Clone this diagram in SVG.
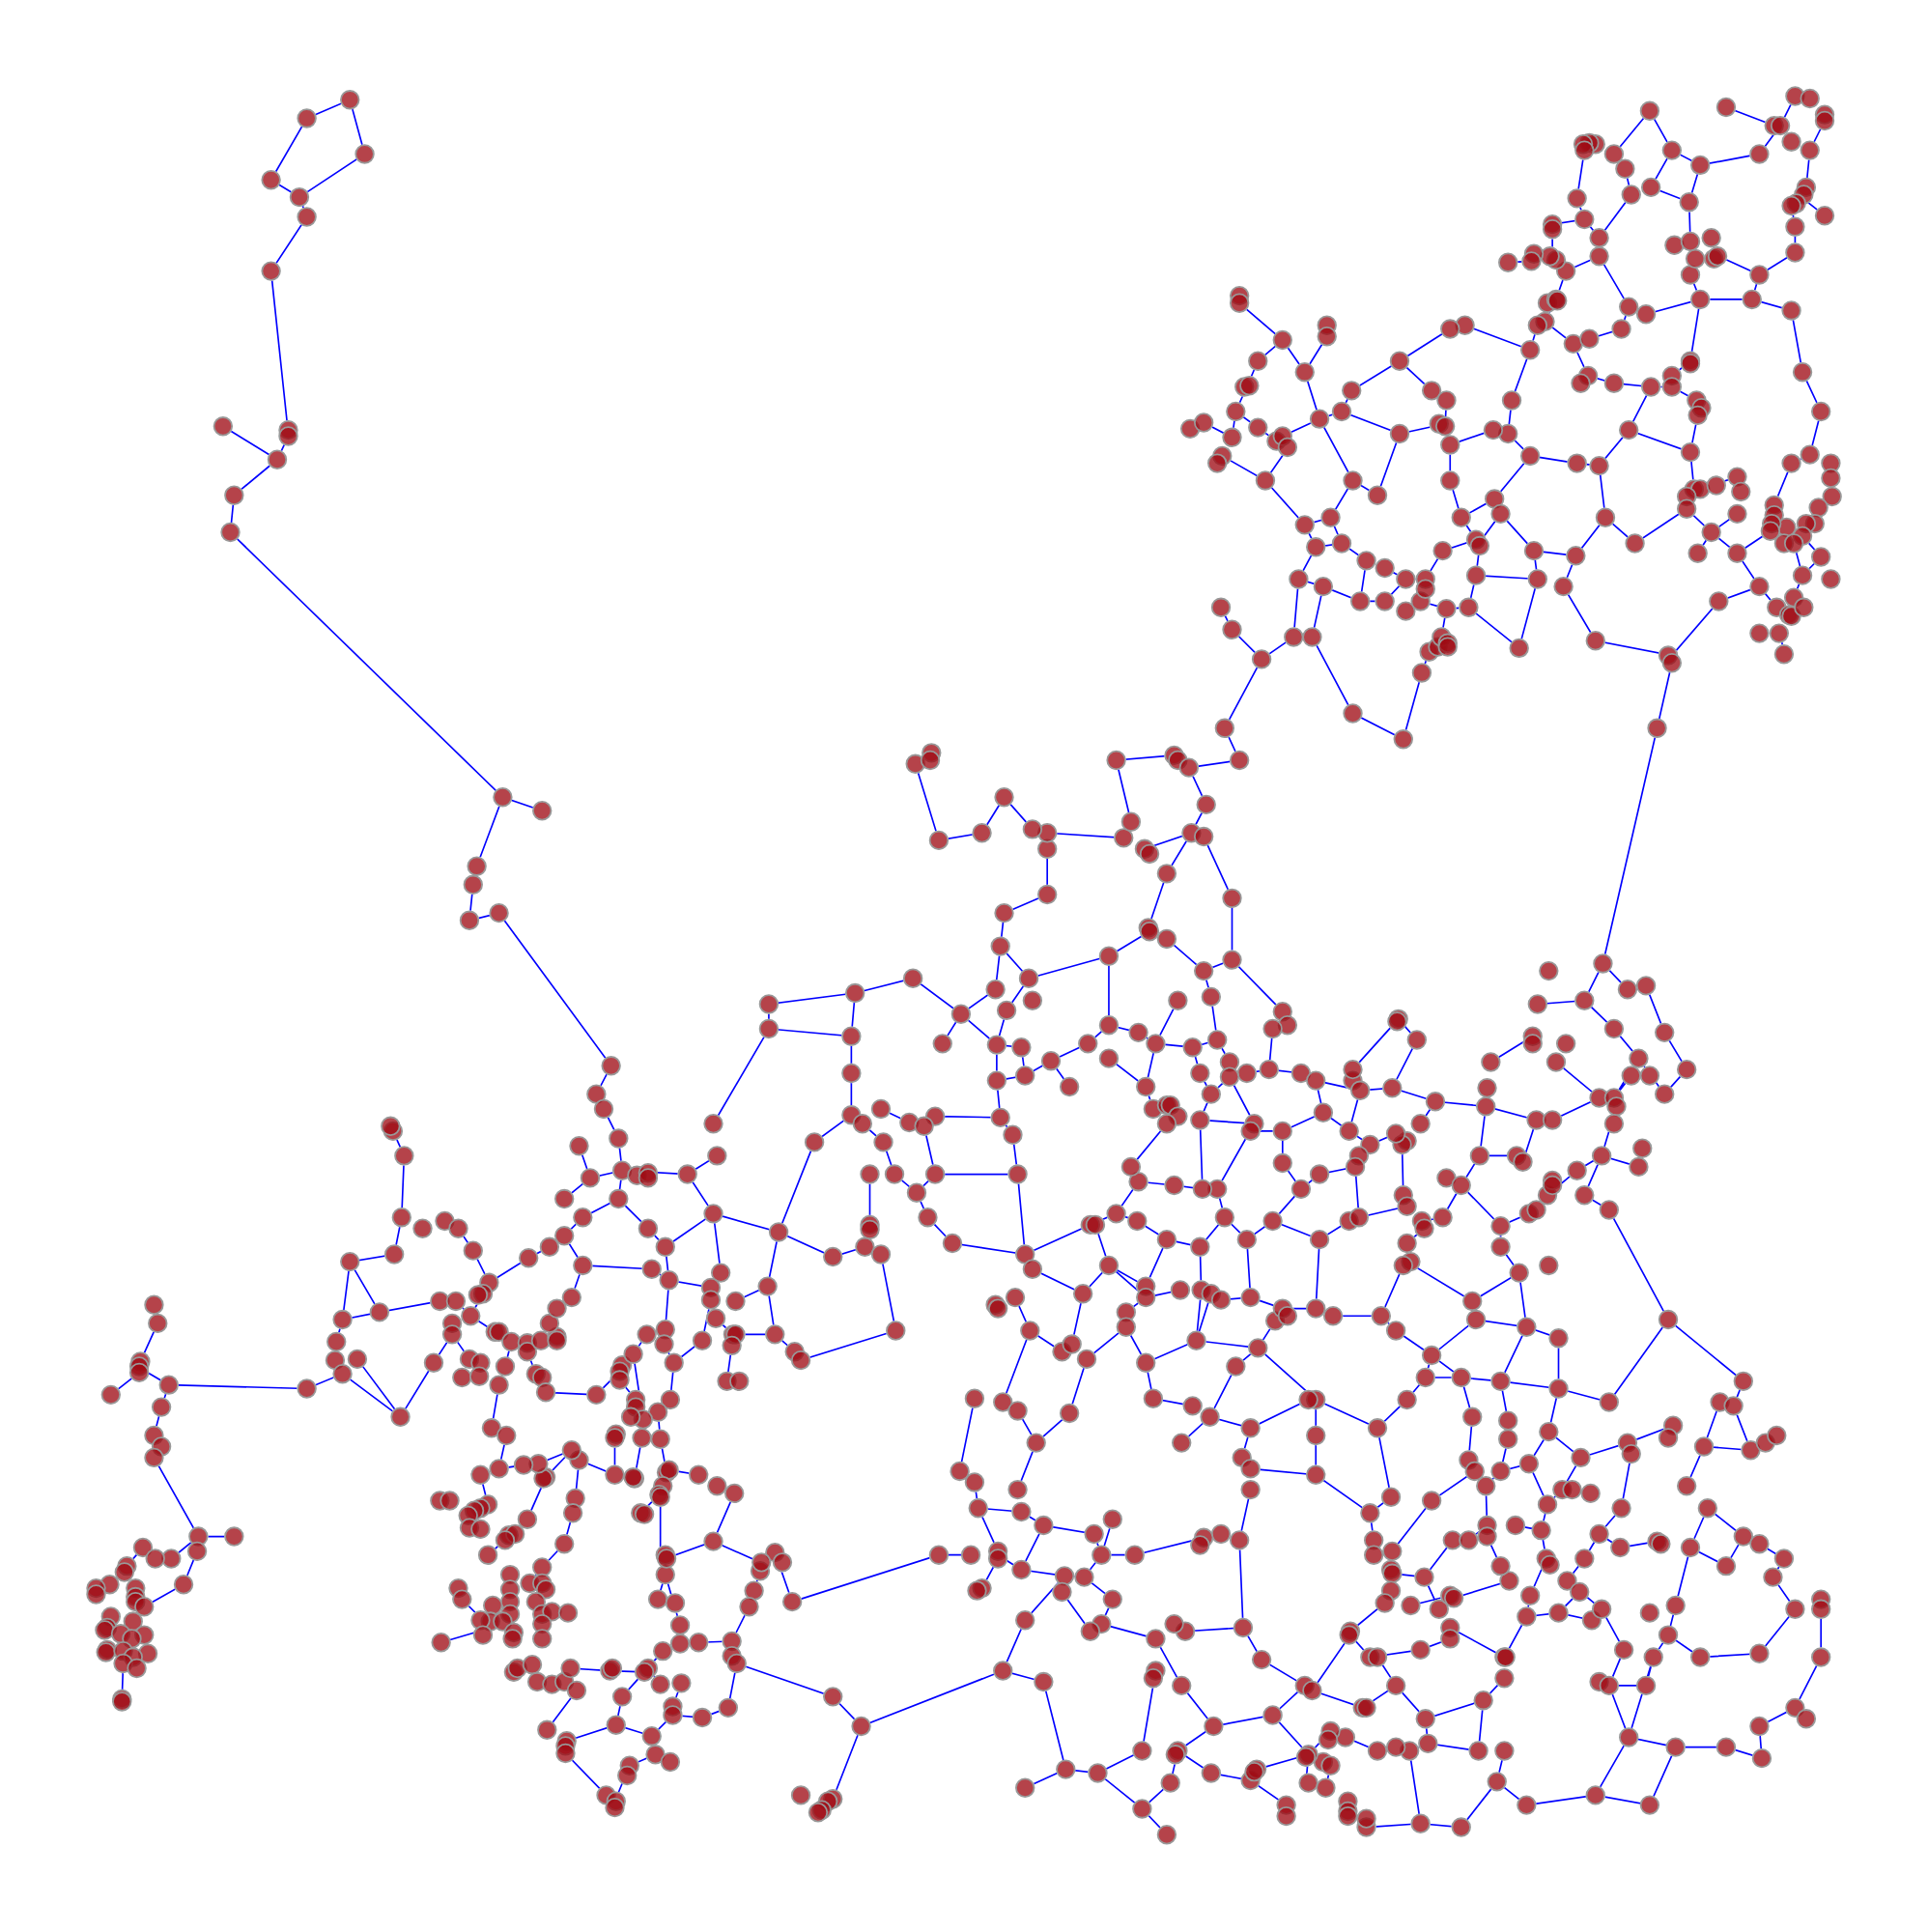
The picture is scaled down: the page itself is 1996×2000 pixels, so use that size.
<svg xmlns="http://www.w3.org/2000/svg" width="1996" height="2000" viewBox="0 0 1996 2000">
<style>#edges path{fill:none;stroke:#00f;stroke-width:1.3}</style>
<rect width="1996" height="2000" fill="#fff"/>
<g transform="scale(1.2755)">
<g id="edges">
<path d="M249 96L284 81L296 125L243 160L220 146L249 96M243 160L249 176L220 220L234 352M181 346L225 373L234 354M225 373L190 402L187 432L408 647L440 658M408 647L387 703L384 718L381 747L405 741L496 865L484 888L490 900L502 924L505 950"/>
<path d="M470 930L479 956L505 950L558 953L582 938M579 912L624 835L691 841L691 905L661 927L632 1000M624 835L624 815L694 806L741 794L780 823L808 803M694 806L691 841M765 847L780 823L809 848M808 803L812 768L835 794L817 820M835 794L900 776M815 741L812 768M815 741L850 726L850 689M850 676L912 680L918 667L906 617L953 613M838 673L815 647L797 676L762 682L743 620"/>
<path d="M965 623L1006 617L994 591L1024 535M965 623L979 653L967 676L929 689M967 676L947 709L932 753M933 756L900 776L900 832L924 838L938 847L968 850L988 844L998 862M977 679L1000 729L1000 779L977 788L947 762L932 755M1000 779L1041 821M977 788L983 809L988 844M938 847L956 812M900 859L930 882L936 900M938 847L930 882M968 850L974 871L983 888L974 909M983 888L998 874L1018 912M883 847L853 861L832 873L809 877M853 861L868 882M817 820L809 848L829 850L832 873M809 848L809 877L812 907L822 921L826 953L832 1018M883 847L900 832"/>
<path d="M691 905L700 912L717 927L726 953L744 968L753 988L773 1009L832 1018M715 900L738 911L759 906L812 907M750 914L759 953L826 953M744 968L759 953M706 953L706 1000M702 1012L715 1018L727 1080L650 1104L645 1097L629 1083L623 1044L632 1000M632 1000L676 1020L702 1012M579 985L632 1000"/>
<path d="M505 950L502 973L473 988L458 1003L446 1012L429 1021L397 1041L384 1015L372 997M479 956L458 973M326 988L320 1018L284 1024L278 1071L273 1089M328 938L326 988M319 918L328 938M284 1024L308 1065L357 1056M308 1065L278 1071M278 1115L325 1150L352 1106L367 1083M290 1103L325 1150M137 1124L249 1127L278 1115L273 1104M370 1056L382 1068L402 1081L415 1089L428 1090M382 1068L392 1050M367 1083L381 1103L389 1117M415 1089L410 1109L405 1124L399 1159M411 1165L405 1192L425 1189L437 1188L464 1177M390 1197L396 1221M428 1097L435 1115L443 1130"/>
<path d="M473 1027L529 1030L543 1039M458 1003L473 1027L464 1053L452 1062L446 1074L452 1085M579 985L540 1012L526 997L502 973M558 953L579 985M540 1012L543 1039L577 1045L585 1033L579 985M543 1039L540 1079L525 1083L514 1099L505 1108M577 1045L577 1055L581 1070M577 1055L570 1088L547 1106L539 1091M597 1056L623 1044M581 1070L595 1083L629 1083M597 1083L594 1092L590 1121M547 1106L544 1136L534 1146L536 1168L541 1195L538 1206L535 1213L520 1228M521 1167L515 1200M522 1152L514 1099M443 1130L484 1132L503 1113M499 1167L499 1197L470 1185M499 1197L515 1200M503 1120L516 1136M521 1167L536 1168"/>
<path d="M464 1177L443 1199L428 1233L413 1246M396 1262L410 1250M372 1289L375 1298L392 1315M470 1185L467 1216L465 1228L458 1253L440 1272L430 1285M414 1278L414 1310M543 1193L567 1197M582 1206L596 1212L579 1251L540 1265M579 1251L617 1268L629 1260M617 1275L612 1291L608 1304L594 1332M629 1260L643 1300L762 1262L788 1262M536 1215L536 1260M540 1278L552 1319L552 1334M534 1298L540 1278M538 1340L523 1357L495 1356L463 1354L458 1365L436 1365L432 1351L420 1354M553 1366L546 1385M546 1392L529 1409L500 1400L460 1413M505 1377L500 1400M523 1357L505 1377M536 1367L526 1354M444 1404L468 1372M459 1423L492 1457M529 1409L532 1424L511 1433L499 1462M567 1333L594 1332M358 1333L392 1323"/>
<path d="M594 1344L598 1350L591 1386L570 1394L546 1392M598 1350L676 1377L699 1401L814 1356L847 1365L865 1436L891 1439L927 1468L947 1489M699 1401L676 1460M832 1451L865 1436M891 1439L927 1421L938 1356M927 1468L950 1447L956 1421L985 1401L959 1368L938 1330M985 1401L1033 1392L1062 1424M1033 1392L1059 1368M1065 1372L1096 1327L1112 1345M1065 1372L1106 1386L1133 1368L1157 1395L1204 1380L1221 1362M1133 1368L1118 1345M1157 1395L1159 1415L1200 1421L1204 1380M1159 1415L1144 1421L1153 1480M1215 1446L1186 1483L1153 1480L1109 1483M1215 1446L1221 1421M956 1421L983 1439L1015 1445L1044 1465L1044 1474M1020 1436L1062 1424L1060 1447M1062 1447L1076 1451L1080 1433M1080 1405L1062 1424M1078 1412L1092 1410L1118 1421L1133 1418L1144 1421M1009 1321L1024 1347L1059 1368"/>
<path d="M1215 1446L1239 1465L1295 1457L1339 1465L1360 1418L1401 1418L1430 1427L1428 1401L1457 1386L1478 1345L1478 1306M1295 1457L1322 1410L1360 1418M1322 1410L1342 1345L1354 1327L1380 1345L1428 1342L1457 1306L1439 1280M1322 1410L1306 1368L1318 1339M1336 1368L1306 1368M1336 1368L1342 1345M1354 1327L1360 1303L1372 1256L1386 1224L1415 1247L1401 1271L1372 1256M1415 1247L1428 1253L1448 1265L1439 1280M1369 1206L1383 1174L1421 1177M1383 1174L1396 1138M1407 1141L1421 1177M1354 1071L1415 1121L1407 1141M1354 1071L1306 1138M1306 982L1354 1071M1358 1157L1321 1171M1324 1180L1316 1224L1298 1245L1315 1256L1345 1251"/>
<path d="M832 1018L885 994M889 994L900 1027L879 1050L838 1030L832 1018M924 959L906 985L885 994M906 985L923 991L947 1006L974 1012L994 988L988 965M924 959L953 962L976 965M947 912L918 947M974 909L976 965M974 909L1018 912L988 965M1015 918L1041 918L1074 903L1095 918L1104 885L1068 877L1056 871L1030 868L1012 871M1041 918L1041 944L1056 965L1033 991L1012 1006L994 988M1056 965L1071 953L1100 947L1103 988L1142 979M1074 903L1068 877M1033 991L1071 1006L1095 991M1071 1006L1068 1062M1012 1006L1015 1053L991 1055M1139 970L1138 929M1098 868L1135 827L1150 844L1130 883L1104 885M1130 883L1165 894L1206 898L1247 909M1153 912L1165 894M1030 868L1033 835M974 1012L975 1047M947 1006L930 1044M1095 918L1112 929L1133 920"/>
<path d="M1206 898L1201 938L1186 962L1218 995L1241 985L1256 970M1201 938L1231 938L1236 943L1247 909M1174 956L1186 962L1171 988L1155 991M1142 1009L1156 997M1218 995L1218 1012L1233 1033M1210 862L1244 841M1207 883L1206 898M1248 815L1286 812L1301 782M1286 812L1310 835L1330 859L1310 891M1321 803L1301 782L1345 591L1357 538M1336 800L1351 838L1369 868L1351 888L1330 859M1263 862L1298 891L1260 909M1324 873L1310 891M1312 898L1300 938L1286 970L1306 982M1256 970L1280 950L1300 938M1330 947L1300 938"/>
<path d="M1142 1024L1195 1056L1233 1033L1239 1077L1198 1071L1162 1100L1133 1080L1121 1068L1082 1068M1195 1056L1198 1071M1139 1027L1121 1068M1239 1077L1218 1121L1186 1118L1162 1100M1239 1077L1265 1086L1265 1127M1218 1121L1265 1127L1306 1138M1186 1118L1157 1118L1162 1100M1157 1118L1142 1136L1118 1159L1068 1136L1068 1165M1118 1159L1129 1215M1265 1127L1257 1162L1241 1188L1218 1194L1206 1206L1197 1194L1162 1218M1218 1121L1224 1153L1224 1168L1218 1194M1186 1118L1195 1150L1192 1185L1197 1194M1257 1162L1283 1183L1321 1171M1283 1183L1268 1209L1256 1221M1241 1188L1256 1221M1206 1206L1207 1238M1162 1218L1130 1259L1130 1277L1129 1291L1124 1301M1129 1215L1112 1228L1115 1250M1112 1228L1068 1197L1015 1192M1068 1197L1068 1165M1115 1262L1130 1259"/>
<path d="M1021 1094L1068 1136M1021 1094L971 1088L930 1106L914 1077L914 1065L930 1053L958 1047M930 1044L900 1027L930 1053M1015 1053L1041 1062L1068 1062L1082 1068M1021 1094L1035 1072M1003 1109L1021 1094M971 1088L983 1050M1003 1109L982 1150L959 1171M971 1088L975 1047M1062 1136L1015 1159L982 1150M1015 1159L1008 1183M968 1141L936 1135L930 1106M1015 1209L1006 1250L1009 1321L962 1324M977 1248L921 1262L894 1262M903 1233L894 1262L880 1280L864 1279L829 1274M847 1238L888 1245L894 1262M847 1238L829 1274M829 1227L847 1238M794 1224L829 1227M791 1203L794 1224L810 1259M791 1135L779 1194M814 1138L836 1080M826 1209L841 1171L868 1147L882 1103M826 1145L841 1171M814 1138L826 1145M870 1091L879 1050M882 1103L914 1077M862 1097L836 1080L824 1053"/>
<path d="M864 1279L832 1315L814 1356M862 1292L885 1324M903 1298L894 1318L938 1330M880 1280L903 1298M810 1262L829 1274M810 1265L797 1289M1130 1277L1156 1280L1179 1250L1192 1250M1156 1280L1168 1306M1124 1301L1096 1324M1180 1297L1225 1283L1218 1271L1207 1247M1145 1303L1177 1295M1112 1345L1153 1339L1177 1330M1177 1321L1221 1345L1239 1312L1242 1295L1255 1265M1239 1312L1265 1309L1292 1315M1282 1292L1265 1309M1300 1306L1318 1339M1272 1283L1300 1306M1230 1238L1251 1242M1207 1238L1192 1250M1256 1221L1251 1242L1255 1265M1286 1265L1298 1245M1286 1265L1272 1283"/>
<path d="M1401 87L1440 102M1339 90L1357 122L1380 134L1428 125L1445 102L1457 78M1339 90L1310 125L1319 137L1324 158L1298 193M1357 122L1340 152L1371 164L1380 134M1371 164L1372 196M1481 98L1469 122L1466 152M1462 160L1481 175M1286 122L1280 161L1286 178L1260 182L1260 208M1286 178L1298 193L1298 208L1322 249M1298 208L1271 220L1263 243L1254 261L1277 279M1271 220L1263 211M1243 212L1224 213M1336 255L1380 243L1422 243L1454 252L1463 302L1478 334L1469 369L1454 376L1440 410M1380 243L1372 223M1422 243L1428 223L1457 205L1457 184L1454 167M1428 223L1395 208M1380 243L1372 293L1357 305M1322 249L1316 267L1290 275L1277 279L1289 305L1310 311L1340 314L1357 314L1377 325M1248 264L1242 284L1189 264M1177 267L1136 293L1097 317L1089 334L1136 352M1136 293L1162 317M1372 367L1378 337M1174 325L1173 344"/>
<path d="M1242 284L1227 325L1224 352L1242 370L1280 376L1298 378L1322 349L1372 367L1375 397M1242 370L1213 405L1186 420L1177 390L1177 361L1212 349M1298 378L1303 420L1279 451L1245 447L1218 417L1201 440M1218 417L1213 405M1303 420L1327 441L1369 413M1322 349L1340 314M1245 447L1248 470L1198 467L1192 493L1233 526L1248 470M1279 451L1269 476L1295 520L1357 532L1395 488L1428 476M1186 420L1198 438L1171 447L1157 470L1141 470L1124 488L1104 488L1109 455L1089 441L1080 420L1098 390M1124 461L1141 470M1198 467L1201 443M1153 488L1174 494L1192 493M1174 494L1170 517M1154 546L1160 529M1136 352L1173 344M1089 334L1071 340L1098 390L1118 402L1136 352M1071 340L1059 302L1041 276L1006 246M1059 302L1077 273M1041 276L1021 293L1012 314L1003 334L1000 355L977 343M1003 334L1021 347L1036 358M1041 354L1071 340"/>
<path d="M992 370L1027 390L1045 364M1027 390L1059 426L1080 420M1059 426L1068 444L1054 470L1050 517M1068 444L1089 441M1054 470L1074 476L1065 517L1098 579L1139 600L1154 546M1074 476L1104 488M1050 517L1024 535M1000 511L991 493M1000 511L1024 535M1065 517L1050 517M1369 403L1375 397L1380 397L1410 387L1413 399M1378 449L1389 432L1369 413M1389 432L1410 449L1428 476L1442 493M1410 449L1437 431M1410 417L1389 432M1463 435L1478 452L1463 467L1456 485L1464 493M1456 441L1463 467M1476 412L1466 425L1456 441M1487 403L1476 412M1445 514L1448 531"/>
<path d="M78 1289L89 1286L103 1271L116 1256L126 1265L139 1265M128 1074L114 1105M113 1114L90 1132M113 1110L137 1124L131 1142L125 1165M125 1183L161 1247L190 1247M160 1259L149 1286L117 1304M139 1265L161 1247M99 1379L100 1350"/>
</g>
<g fill="#fff" stroke="#fff" stroke-width="1.4"><use href="#nodes"/></g>
<g fill="#9f0a14" fill-opacity=".77" stroke="#999" stroke-width="1.4">
<g id="nodes">
<g id="n1"><circle cx="284" cy="81" r="7.3"/></g><g id="n2"><circle cx="249" cy="96" r="7.3"/></g><g id="n3"><circle cx="296" cy="125" r="7.3"/></g><g id="n4"><circle cx="220" cy="146" r="7.3"/></g><g id="n5"><circle cx="243" cy="160" r="7.3"/></g><g id="n6"><circle cx="249" cy="176" r="7.3"/></g><g id="n7"><circle cx="220" cy="220" r="7.3"/></g><g id="n8"><circle cx="234" cy="349" r="7.3"/></g><g id="n9"><circle cx="234" cy="354" r="7.3"/></g><g id="n10"><circle cx="181" cy="346" r="7.3"/></g><g id="n11"><circle cx="225" cy="373" r="7.3"/></g><g id="n12"><circle cx="190" cy="402" r="7.3"/></g><g id="n13"><circle cx="187" cy="432" r="7.3"/></g><g id="n14"><circle cx="408" cy="647" r="7.3"/></g><g id="n15"><circle cx="440" cy="658" r="7.3"/></g><g id="n16"><circle cx="387" cy="703" r="7.3"/></g><g id="n17"><circle cx="384" cy="718" r="7.3"/></g><g id="n18"><circle cx="381" cy="747" r="7.3"/></g><g id="n19"><circle cx="405" cy="741" r="7.3"/></g><g id="n20"><circle cx="496" cy="865" r="7.3"/></g><g id="n21"><circle cx="484" cy="888" r="7.3"/></g><g id="n22"><circle cx="490" cy="900" r="7.3"/></g><g id="n23"><circle cx="502" cy="924" r="7.3"/></g><g id="n24"><circle cx="470" cy="930" r="7.3"/></g><g id="n25"><circle cx="479" cy="956" r="7.3"/></g><g id="n26"><circle cx="505" cy="950" r="7.3"/></g><g id="n27"><circle cx="517" cy="954" r="7.3"/></g><g id="n28"><circle cx="526" cy="952" r="7.3"/></g><g id="n29"><circle cx="526" cy="956" r="7.3"/></g><g id="n30"><circle cx="558" cy="953" r="7.3"/></g><g id="n31"><circle cx="582" cy="938" r="7.3"/></g><g id="n32"><circle cx="579" cy="912" r="7.3"/></g>
<g id="n33"><circle cx="125" cy="1059" r="7.3"/></g><g id="n34"><circle cx="128" cy="1074" r="7.3"/></g><g id="n35"><circle cx="114" cy="1105" r="7.3"/></g><g id="n36"><circle cx="113" cy="1109" r="7.3"/></g><g id="n37"><circle cx="113" cy="1114" r="7.3"/></g><g id="n38"><circle cx="90" cy="1132" r="7.3"/></g><g id="n39"><circle cx="137" cy="1124" r="7.3"/></g><g id="n40"><circle cx="131" cy="1142" r="7.3"/></g><g id="n41"><circle cx="125" cy="1165" r="7.3"/></g><g id="n42"><circle cx="131" cy="1174" r="7.3"/></g><g id="n43"><circle cx="125" cy="1183" r="7.3"/></g><g id="n44"><circle cx="161" cy="1247" r="7.3"/></g><g id="n45"><circle cx="160" cy="1259" r="7.3"/></g><g id="n46"><circle cx="190" cy="1247" r="7.3"/></g><g id="n47"><circle cx="139" cy="1265" r="7.3"/></g><g id="n48"><circle cx="116" cy="1256" r="7.3"/></g><g id="n49"><circle cx="126" cy="1265" r="7.3"/></g><g id="n50"><circle cx="103" cy="1271" r="7.3"/></g><g id="n51"><circle cx="101" cy="1276" r="7.3"/></g><g id="n52"><circle cx="89" cy="1286" r="7.3"/></g><g id="n53"><circle cx="78" cy="1289" r="7.3"/></g><g id="n54"><circle cx="78" cy="1294" r="7.3"/></g><g id="n55"><circle cx="110" cy="1289" r="7.3"/></g><g id="n56"><circle cx="110" cy="1296" r="7.3"/></g><g id="n57"><circle cx="110" cy="1300" r="7.3"/></g><g id="n58"><circle cx="117" cy="1304" r="7.3"/></g><g id="n59"><circle cx="149" cy="1286" r="7.3"/></g><g id="n60"><circle cx="90" cy="1312" r="7.3"/></g><g id="n61"><circle cx="108" cy="1316" r="7.3"/></g><g id="n62"><circle cx="87" cy="1321" r="7.3"/></g><g id="n63"><circle cx="85" cy="1323" r="7.3"/></g><g id="n64"><circle cx="98" cy="1326" r="7.3"/></g><g id="n65"><circle cx="117" cy="1327" r="7.3"/></g><g id="n66"><circle cx="107" cy="1330" r="7.3"/></g><g id="n67"><circle cx="87" cy="1339" r="7.3"/></g><g id="n68"><circle cx="86" cy="1341" r="7.3"/></g><g id="n69"><circle cx="100" cy="1340" r="7.3"/></g><g id="n70"><circle cx="120" cy="1342" r="7.3"/></g><g id="n71"><circle cx="108" cy="1345" r="7.3"/></g><g id="n72"><circle cx="100" cy="1350" r="7.3"/></g><g id="n73"><circle cx="111" cy="1354" r="7.3"/></g><g id="n74"><circle cx="99" cy="1379" r="7.3"/></g><g id="n75"><circle cx="99" cy="1381" r="7.3"/></g>
<g id="n76"><circle cx="284" cy="1024" r="7.3"/></g><g id="n77"><circle cx="320" cy="1018" r="7.3"/></g><g id="n78"><circle cx="326" cy="988" r="7.3"/></g><g id="n79"><circle cx="328" cy="938" r="7.3"/></g><g id="n80"><circle cx="319" cy="918" r="7.3"/></g><g id="n81"><circle cx="317" cy="914" r="7.3"/></g><g id="n82"><circle cx="343" cy="997" r="7.3"/></g><g id="n83"><circle cx="361" cy="991" r="7.3"/></g><g id="n84"><circle cx="372" cy="997" r="7.3"/></g><g id="n85"><circle cx="384" cy="1015" r="7.3"/></g><g id="n86"><circle cx="397" cy="1041" r="7.3"/></g><g id="n87"><circle cx="392" cy="1050" r="7.3"/></g><g id="n88"><circle cx="388" cy="1051" r="7.3"/></g><g id="n89"><circle cx="429" cy="1021" r="7.3"/></g><g id="n90"><circle cx="446" cy="1012" r="7.3"/></g><g id="n91"><circle cx="458" cy="1003" r="7.3"/></g><g id="n92"><circle cx="458" cy="973" r="7.3"/></g><g id="n93"><circle cx="473" cy="988" r="7.3"/></g><g id="n94"><circle cx="502" cy="973" r="7.3"/></g><g id="n95"><circle cx="526" cy="997" r="7.3"/></g><g id="n96"><circle cx="540" cy="1012" r="7.3"/></g><g id="n97"><circle cx="579" cy="985" r="7.3"/></g><g id="n98"><circle cx="473" cy="1027" r="7.3"/></g><g id="n99"><circle cx="529" cy="1030" r="7.3"/></g><g id="n100"><circle cx="543" cy="1039" r="7.3"/></g><g id="n101"><circle cx="585" cy="1033" r="7.3"/></g><g id="n102"><circle cx="577" cy="1045" r="7.3"/></g><g id="n103"><circle cx="577" cy="1055" r="7.3"/></g><g id="n104"><circle cx="581" cy="1070" r="7.3"/></g><g id="n105"><circle cx="597" cy="1056" r="7.3"/></g><g id="n106"><circle cx="623" cy="1044" r="7.3"/></g><g id="n107"><circle cx="629" cy="1083" r="7.3"/></g><g id="n108"><circle cx="595" cy="1083" r="7.3"/></g><g id="n109"><circle cx="597" cy="1083" r="7.3"/></g><g id="n110"><circle cx="594" cy="1092" r="7.3"/></g><g id="n111"><circle cx="590" cy="1121" r="7.3"/></g><g id="n112"><circle cx="600" cy="1121" r="7.3"/></g><g id="n113"><circle cx="570" cy="1088" r="7.3"/></g><g id="n114"><circle cx="645" cy="1097" r="7.3"/></g><g id="n115"><circle cx="650" cy="1104" r="7.3"/></g><g id="n116"><circle cx="727" cy="1080" r="7.3"/></g>
<g id="n117"><circle cx="308" cy="1065" r="7.3"/></g><g id="n118"><circle cx="278" cy="1071" r="7.3"/></g><g id="n119"><circle cx="273" cy="1089" r="7.3"/></g><g id="n120"><circle cx="272" cy="1104" r="7.3"/></g><g id="n121"><circle cx="278" cy="1115" r="7.3"/></g><g id="n122"><circle cx="290" cy="1103" r="7.3"/></g><g id="n123"><circle cx="249" cy="1127" r="7.3"/></g><g id="n124"><circle cx="325" cy="1150" r="7.3"/></g><g id="n125"><circle cx="352" cy="1106" r="7.3"/></g><g id="n126"><circle cx="357" cy="1056" r="7.3"/></g><g id="n127"><circle cx="370" cy="1056" r="7.3"/></g><g id="n128"><circle cx="382" cy="1068" r="7.3"/></g><g id="n129"><circle cx="367" cy="1074" r="7.3"/></g><g id="n130"><circle cx="367" cy="1083" r="7.3"/></g><g id="n131"><circle cx="381" cy="1103" r="7.3"/></g><g id="n132"><circle cx="375" cy="1118" r="7.3"/></g><g id="n133"><circle cx="390" cy="1106" r="7.3"/></g><g id="n134"><circle cx="389" cy="1117" r="7.3"/></g><g id="n135"><circle cx="402" cy="1081" r="7.3"/></g><g id="n136"><circle cx="405" cy="1081" r="7.3"/></g><g id="n137"><circle cx="415" cy="1089" r="7.3"/></g><g id="n138"><circle cx="410" cy="1109" r="7.3"/></g><g id="n139"><circle cx="428" cy="1090" r="7.3"/></g><g id="n140"><circle cx="428" cy="1097" r="7.3"/></g><g id="n141"><circle cx="439" cy="1088" r="7.3"/></g><g id="n142"><circle cx="452" cy="1085" r="7.3"/></g><g id="n143"><circle cx="452" cy="1088" r="7.3"/></g><g id="n144"><circle cx="446" cy="1074" r="7.3"/></g><g id="n145"><circle cx="452" cy="1062" r="7.3"/></g><g id="n146"><circle cx="464" cy="1053" r="7.3"/></g><g id="n147"><circle cx="405" cy="1124" r="7.3"/></g><g id="n148"><circle cx="399" cy="1159" r="7.3"/></g><g id="n149"><circle cx="411" cy="1165" r="7.3"/></g><g id="n150"><circle cx="435" cy="1115" r="7.3"/></g><g id="n151"><circle cx="440" cy="1118" r="7.3"/></g><g id="n152"><circle cx="443" cy="1130" r="7.3"/></g><g id="n153"><circle cx="484" cy="1132" r="7.3"/></g><g id="n154"><circle cx="505" cy="1108" r="7.3"/></g><g id="n155"><circle cx="503" cy="1113" r="7.3"/></g><g id="n156"><circle cx="514" cy="1099" r="7.3"/></g><g id="n157"><circle cx="525" cy="1083" r="7.3"/></g><g id="n158"><circle cx="540" cy="1079" r="7.3"/></g><g id="n159"><circle cx="539" cy="1091" r="7.3"/></g><g id="n160"><circle cx="547" cy="1106" r="7.3"/></g><g id="n161"><circle cx="503" cy="1120" r="7.3"/></g><g id="n162"><circle cx="516" cy="1136" r="7.3"/></g><g id="n163"><circle cx="516" cy="1142" r="7.3"/></g><g id="n164"><circle cx="544" cy="1136" r="7.3"/></g><g id="n165"><circle cx="534" cy="1146" r="7.3"/></g><g id="n166"><circle cx="522" cy="1152" r="7.3"/></g><g id="n167"><circle cx="512" cy="1150" r="7.3"/></g><g id="n168"><circle cx="500" cy="1164" r="7.3"/></g><g id="n169"><circle cx="499" cy="1167" r="7.3"/></g><g id="n170"><circle cx="521" cy="1167" r="7.3"/></g><g id="n171"><circle cx="536" cy="1168" r="7.3"/></g><g id="n172"><circle cx="541" cy="1195" r="7.3"/></g><g id="n173"><circle cx="543" cy="1193" r="7.3"/></g><g id="n174"><circle cx="538" cy="1206" r="7.3"/></g><g id="n175"><circle cx="535" cy="1213" r="7.3"/></g><g id="n176"><circle cx="499" cy="1197" r="7.3"/></g><g id="n177"><circle cx="515" cy="1200" r="7.3"/></g><g id="n178"><circle cx="514" cy="1199" r="7.3"/></g><g id="n179"><circle cx="470" cy="1185" r="7.3"/></g><g id="n180"><circle cx="464" cy="1177" r="7.3"/></g><g id="n181"><circle cx="443" cy="1199" r="7.3"/></g><g id="n182"><circle cx="441" cy="1200" r="7.3"/></g><g id="n183"><circle cx="437" cy="1188" r="7.3"/></g><g id="n184"><circle cx="425" cy="1189" r="7.3"/></g><g id="n185"><circle cx="405" cy="1192" r="7.3"/></g><g id="n186"><circle cx="390" cy="1197" r="7.3"/></g><g id="n187"><circle cx="467" cy="1216" r="7.3"/></g><g id="n188"><circle cx="465" cy="1228" r="7.3"/></g><g id="n189"><circle cx="458" cy="1253" r="7.3"/></g><g id="n190"><circle cx="428" cy="1233" r="7.3"/></g><g id="n191"><circle cx="396" cy="1221" r="7.3"/></g><g id="n192"><circle cx="390" cy="1224" r="7.3"/></g><g id="n193"><circle cx="385" cy="1226" r="7.3"/></g><g id="n194"><circle cx="380" cy="1230" r="7.3"/></g><g id="n195"><circle cx="357" cy="1218" r="7.3"/></g><g id="n196"><circle cx="365" cy="1218" r="7.3"/></g><g id="n197"><circle cx="381" cy="1240" r="7.3"/></g><g id="n198"><circle cx="390" cy="1241" r="7.3"/></g><g id="n199"><circle cx="413" cy="1246" r="7.3"/></g><g id="n200"><circle cx="418" cy="1245" r="7.3"/></g><g id="n201"><circle cx="410" cy="1250" r="7.3"/></g><g id="n202"><circle cx="396" cy="1262" r="7.3"/></g><g id="n203"><circle cx="372" cy="1289" r="7.3"/></g><g id="n204"><circle cx="375" cy="1298" r="7.3"/></g><g id="n205"><circle cx="414" cy="1278" r="7.3"/></g><g id="n206"><circle cx="414" cy="1290" r="7.3"/></g><g id="n207"><circle cx="414" cy="1300" r="7.3"/></g><g id="n208"><circle cx="414" cy="1310" r="7.3"/></g><g id="n209"><circle cx="430" cy="1285" r="7.3"/></g><g id="n210"><circle cx="440" cy="1272" r="7.3"/></g><g id="n211"><circle cx="440" cy="1285" r="7.3"/></g><g id="n212"><circle cx="443" cy="1290" r="7.3"/></g><g id="n213"><circle cx="435" cy="1300" r="7.3"/></g><g id="n214"><circle cx="440" cy="1310" r="7.3"/></g><g id="n215"><circle cx="448" cy="1308" r="7.3"/></g><g id="n216"><circle cx="461" cy="1309" r="7.3"/></g><g id="n217"><circle cx="400" cy="1303" r="7.3"/></g><g id="n218"><circle cx="398" cy="1316" r="7.3"/></g><g id="n219"><circle cx="408" cy="1316" r="7.3"/></g><g id="n220"><circle cx="390" cy="1315" r="7.3"/></g><g id="n221"><circle cx="392" cy="1327" r="7.3"/></g><g id="n222"><circle cx="358" cy="1333" r="7.3"/></g><g id="n223"><circle cx="417" cy="1325" r="7.3"/></g><g id="n224"><circle cx="416" cy="1330" r="7.3"/></g><g id="n225"><circle cx="440" cy="1318" r="7.3"/></g><g id="n226"><circle cx="440" cy="1330" r="7.3"/></g><g id="n227"><circle cx="417" cy="1357" r="7.3"/></g><g id="n228"><circle cx="420" cy="1354" r="7.3"/></g><g id="n229"><circle cx="432" cy="1351" r="7.3"/></g><g id="n230"><circle cx="436" cy="1365" r="7.3"/></g><g id="n231"><circle cx="448" cy="1367" r="7.3"/></g><g id="n232"><circle cx="458" cy="1365" r="7.3"/></g><g id="n233"><circle cx="468" cy="1372" r="7.3"/></g><g id="n234"><circle cx="463" cy="1354" r="7.3"/></g><g id="n235"><circle cx="495" cy="1356" r="7.3"/></g><g id="n236"><circle cx="497" cy="1354" r="7.3"/></g><g id="n237"><circle cx="526" cy="1354" r="7.3"/></g><g id="n238"><circle cx="523" cy="1357" r="7.3"/></g><g id="n239"><circle cx="536" cy="1367" r="7.3"/></g><g id="n240"><circle cx="538" cy="1340" r="7.3"/></g><g id="n241"><circle cx="552" cy="1334" r="7.3"/></g><g id="n242"><circle cx="567" cy="1333" r="7.3"/></g><g id="n243"><circle cx="552" cy="1319" r="7.3"/></g><g id="n244"><circle cx="534" cy="1298" r="7.3"/></g><g id="n245"><circle cx="548" cy="1301" r="7.3"/></g><g id="n246"><circle cx="540" cy="1262" r="7.3"/></g><g id="n247"><circle cx="540" cy="1278" r="7.3"/></g><g id="n248"><circle cx="541" cy="1265" r="7.3"/></g><g id="n249"><circle cx="579" cy="1251" r="7.3"/></g><g id="n250"><circle cx="520" cy="1228" r="7.3"/></g><g id="n251"><circle cx="523" cy="1229" r="7.3"/></g><g id="n252"><circle cx="536" cy="1215" r="7.3"/></g><g id="n253"><circle cx="567" cy="1197" r="7.3"/></g><g id="n254"><circle cx="582" cy="1206" r="7.3"/></g><g id="n255"><circle cx="596" cy="1212" r="7.3"/></g><g id="n256"><circle cx="617" cy="1275" r="7.3"/></g><g id="n257"><circle cx="612" cy="1291" r="7.3"/></g><g id="n258"><circle cx="608" cy="1304" r="7.3"/></g><g id="n259"><circle cx="629" cy="1260" r="7.3"/></g><g id="n260"><circle cx="635" cy="1268" r="7.3"/></g><g id="n261"><circle cx="618" cy="1268" r="7.3"/></g><g id="n262"><circle cx="643" cy="1300" r="7.3"/></g><g id="n263"><circle cx="594" cy="1332" r="7.3"/></g><g id="n264"><circle cx="594" cy="1344" r="7.3"/></g><g id="n265"><circle cx="598" cy="1350" r="7.3"/></g><g id="n266"><circle cx="553" cy="1366" r="7.3"/></g><g id="n267"><circle cx="546" cy="1385" r="7.3"/></g><g id="n268"><circle cx="546" cy="1392" r="7.3"/></g><g id="n269"><circle cx="570" cy="1394" r="7.3"/></g><g id="n270"><circle cx="591" cy="1386" r="7.3"/></g><g id="n271"><circle cx="505" cy="1377" r="7.3"/></g><g id="n272"><circle cx="500" cy="1400" r="7.3"/></g><g id="n273"><circle cx="444" cy="1404" r="7.3"/></g><g id="n274"><circle cx="529" cy="1409" r="7.3"/></g><g id="n275"><circle cx="460" cy="1413" r="7.3"/></g><g id="n276"><circle cx="459" cy="1417" r="7.3"/></g><g id="n277"><circle cx="459" cy="1423" r="7.3"/></g><g id="n278"><circle cx="532" cy="1424" r="7.3"/></g><g id="n279"><circle cx="544" cy="1430" r="7.3"/></g><g id="n280"><circle cx="511" cy="1433" r="7.3"/></g><g id="n281"><circle cx="509" cy="1441" r="7.3"/></g><g id="n282"><circle cx="492" cy="1457" r="7.3"/></g><g id="n283"><circle cx="500" cy="1462" r="7.3"/></g><g id="n284"><circle cx="499" cy="1467" r="7.3"/></g>
<g id="n285"><circle cx="624" cy="815" r="7.3"/></g><g id="n286"><circle cx="624" cy="835" r="7.3"/></g><g id="n287"><circle cx="691" cy="841" r="7.3"/></g><g id="n288"><circle cx="694" cy="806" r="7.3"/></g><g id="n289"><circle cx="741" cy="794" r="7.3"/></g><g id="n290"><circle cx="691" cy="871" r="7.3"/></g><g id="n291"><circle cx="691" cy="905" r="7.3"/></g><g id="n292"><circle cx="661" cy="927" r="7.3"/></g><g id="n293"><circle cx="715" cy="900" r="7.3"/></g><g id="n294"><circle cx="700" cy="912" r="7.3"/></g><g id="n295"><circle cx="717" cy="927" r="7.3"/></g><g id="n296"><circle cx="738" cy="911" r="7.3"/></g><g id="n297"><circle cx="759" cy="906" r="7.3"/></g><g id="n298"><circle cx="750" cy="914" r="7.3"/></g><g id="n299"><circle cx="726" cy="953" r="7.3"/></g><g id="n300"><circle cx="706" cy="953" r="7.3"/></g><g id="n301"><circle cx="744" cy="968" r="7.3"/></g><g id="n302"><circle cx="759" cy="953" r="7.3"/></g><g id="n303"><circle cx="826" cy="953" r="7.3"/></g><g id="n304"><circle cx="822" cy="921" r="7.3"/></g><g id="n305"><circle cx="812" cy="907" r="7.3"/></g><g id="n306"><circle cx="809" cy="877" r="7.3"/></g><g id="n307"><circle cx="809" cy="848" r="7.3"/></g><g id="n308"><circle cx="817" cy="820" r="7.3"/></g><g id="n309"><circle cx="835" cy="794" r="7.3"/></g><g id="n310"><circle cx="808" cy="803" r="7.3"/></g><g id="n311"><circle cx="812" cy="768" r="7.3"/></g><g id="n312"><circle cx="815" cy="741" r="7.3"/></g><g id="n313"><circle cx="850" cy="726" r="7.3"/></g><g id="n314"><circle cx="850" cy="689" r="7.3"/></g><g id="n315"><circle cx="850" cy="676" r="7.3"/></g><g id="n316"><circle cx="838" cy="673" r="7.3"/></g><g id="n317"><circle cx="815" cy="647" r="7.3"/></g><g id="n318"><circle cx="797" cy="676" r="7.3"/></g><g id="n319"><circle cx="762" cy="682" r="7.3"/></g><g id="n320"><circle cx="743" cy="620" r="7.3"/></g><g id="n321"><circle cx="756" cy="611" r="7.3"/></g><g id="n322"><circle cx="755" cy="617" r="7.3"/></g><g id="n323"><circle cx="912" cy="680" r="7.3"/></g><g id="n324"><circle cx="918" cy="667" r="7.3"/></g><g id="n325"><circle cx="906" cy="617" r="7.3"/></g><g id="n326"><circle cx="953" cy="613" r="7.3"/></g><g id="n327"><circle cx="956" cy="617" r="7.3"/></g><g id="n328"><circle cx="965" cy="623" r="7.3"/></g><g id="n329"><circle cx="1006" cy="617" r="7.3"/></g><g id="n330"><circle cx="994" cy="591" r="7.3"/></g><g id="n331"><circle cx="979" cy="653" r="7.3"/></g><g id="n332"><circle cx="967" cy="676" r="7.3"/></g><g id="n333"><circle cx="977" cy="679" r="7.3"/></g><g id="n334"><circle cx="947" cy="709" r="7.3"/></g><g id="n335"><circle cx="929" cy="689" r="7.3"/></g><g id="n336"><circle cx="933" cy="693" r="7.3"/></g><g id="n337"><circle cx="1000" cy="729" r="7.3"/></g><g id="n338"><circle cx="1000" cy="779" r="7.3"/></g><g id="n339"><circle cx="977" cy="788" r="7.3"/></g><g id="n340"><circle cx="947" cy="762" r="7.3"/></g><g id="n341"><circle cx="932" cy="753" r="7.3"/></g><g id="n342"><circle cx="933" cy="756" r="7.3"/></g><g id="n343"><circle cx="900" cy="776" r="7.3"/></g><g id="n344"><circle cx="900" cy="832" r="7.3"/></g><g id="n345"><circle cx="883" cy="847" r="7.3"/></g><g id="n346"><circle cx="900" cy="859" r="7.3"/></g><g id="n347"><circle cx="924" cy="838" r="7.3"/></g><g id="n348"><circle cx="938" cy="847" r="7.3"/></g><g id="n349"><circle cx="956" cy="812" r="7.3"/></g><g id="n350"><circle cx="983" cy="809" r="7.3"/></g><g id="n351"><circle cx="968" cy="850" r="7.3"/></g><g id="n352"><circle cx="988" cy="844" r="7.3"/></g><g id="n353"><circle cx="998" cy="862" r="7.3"/></g><g id="n354"><circle cx="1012" cy="871" r="7.3"/></g><g id="n355"><circle cx="1030" cy="868" r="7.3"/></g><g id="n356"><circle cx="1056" cy="871" r="7.3"/></g><g id="n357"><circle cx="1068" cy="877" r="7.3"/></g><g id="n358"><circle cx="1041" cy="821" r="7.3"/></g><g id="n359"><circle cx="1045" cy="832" r="7.3"/></g><g id="n360"><circle cx="1033" cy="835" r="7.3"/></g><g id="n361"><circle cx="998" cy="874" r="7.3"/></g><g id="n362"><circle cx="983" cy="888" r="7.3"/></g><g id="n363"><circle cx="974" cy="871" r="7.3"/></g><g id="n364"><circle cx="930" cy="882" r="7.3"/></g><g id="n365"><circle cx="936" cy="900" r="7.3"/></g><g id="n366"><circle cx="947" cy="897" r="7.3"/></g><g id="n367"><circle cx="950" cy="897" r="7.3"/></g><g id="n368"><circle cx="956" cy="906" r="7.3"/></g><g id="n369"><circle cx="947" cy="912" r="7.3"/></g><g id="n370"><circle cx="974" cy="909" r="7.3"/></g><g id="n371"><circle cx="1018" cy="912" r="7.3"/></g><g id="n372"><circle cx="1015" cy="918" r="7.3"/></g><g id="n373"><circle cx="1041" cy="918" r="7.3"/></g><g id="n374"><circle cx="1074" cy="903" r="7.3"/></g><g id="n375"><circle cx="1095" cy="918" r="7.3"/></g><g id="n376"><circle cx="1098" cy="877" r="7.3"/></g><g id="n377"><circle cx="1098" cy="868" r="7.3"/></g><g id="n378"><circle cx="1104" cy="885" r="7.3"/></g><g id="n379"><circle cx="1130" cy="883" r="7.3"/></g><g id="n380"><circle cx="1135" cy="827" r="7.3"/></g><g id="n381"><circle cx="1134" cy="829" r="7.3"/></g><g id="n382"><circle cx="1150" cy="844" r="7.3"/></g><g id="n383"><circle cx="1165" cy="894" r="7.3"/></g><g id="n384"><circle cx="1206" cy="898" r="7.3"/></g><g id="n385"><circle cx="1207" cy="883" r="7.3"/></g><g id="n386"><circle cx="1210" cy="862" r="7.3"/></g><g id="n387"><circle cx="1244" cy="841" r="7.3"/></g><g id="n388"><circle cx="1244" cy="847" r="7.3"/></g><g id="n389"><circle cx="1248" cy="815" r="7.3"/></g><g id="n390"><circle cx="1257" cy="788" r="7.3"/></g><g id="n391"><circle cx="1286" cy="812" r="7.3"/></g><g id="n392"><circle cx="1301" cy="782" r="7.3"/></g><g id="n393"><circle cx="1321" cy="803" r="7.3"/></g><g id="n394"><circle cx="1336" cy="800" r="7.3"/></g><g id="n395"><circle cx="1310" cy="835" r="7.3"/></g><g id="n396"><circle cx="1351" cy="838" r="7.3"/></g><g id="n397"><circle cx="1330" cy="859" r="7.3"/></g><g id="n398"><circle cx="1369" cy="868" r="7.3"/></g><g id="n399"><circle cx="1324" cy="873" r="7.3"/></g><g id="n400"><circle cx="1339" cy="873" r="7.3"/></g><g id="n401"><circle cx="1351" cy="888" r="7.3"/></g><g id="n402"><circle cx="1298" cy="891" r="7.3"/></g><g id="n403"><circle cx="1310" cy="891" r="7.3"/></g><g id="n404"><circle cx="1312" cy="898" r="7.3"/></g><g id="n405"><circle cx="1310" cy="912" r="7.3"/></g><g id="n406"><circle cx="1300" cy="938" r="7.3"/></g><g id="n407"><circle cx="1333" cy="932" r="7.3"/></g><g id="n408"><circle cx="1330" cy="947" r="7.3"/></g><g id="n409"><circle cx="1263" cy="862" r="7.3"/></g><g id="n410"><circle cx="1271" cy="847" r="7.3"/></g><g id="n411"><circle cx="1247" cy="909" r="7.3"/></g><g id="n412"><circle cx="1260" cy="909" r="7.3"/></g><g id="n413"><circle cx="1201" cy="938" r="7.3"/></g><g id="n414"><circle cx="1231" cy="938" r="7.3"/></g><g id="n415"><circle cx="1236" cy="943" r="7.3"/></g><g id="n416"><circle cx="1174" cy="956" r="7.3"/></g><g id="n417"><circle cx="1186" cy="962" r="7.3"/></g><g id="n418"><circle cx="1171" cy="988" r="7.3"/></g><g id="n419"><circle cx="1154" cy="991" r="7.3"/></g><g id="n420"><circle cx="1156" cy="997" r="7.3"/></g><g id="n421"><circle cx="1218" cy="995" r="7.3"/></g><g id="n422"><circle cx="1218" cy="1012" r="7.3"/></g><g id="n423"><circle cx="1233" cy="1033" r="7.3"/></g><g id="n424"><circle cx="1257" cy="1027" r="7.3"/></g><g id="n425"><circle cx="1241" cy="985" r="7.3"/></g><g id="n426"><circle cx="1247" cy="982" r="7.3"/></g><g id="n427"><circle cx="1256" cy="970" r="7.3"/></g><g id="n428"><circle cx="1260" cy="958" r="7.3"/></g><g id="n429"><circle cx="1260" cy="962" r="7.3"/></g><g id="n430"><circle cx="1280" cy="950" r="7.3"/></g><g id="n431"><circle cx="1286" cy="970" r="7.3"/></g><g id="n432"><circle cx="1306" cy="982" r="7.3"/></g><g id="n433"><circle cx="1354" cy="1071" r="7.3"/></g><g id="n434"><circle cx="1415" cy="1121" r="7.3"/></g><g id="n435"><circle cx="1142" cy="1009" r="7.3"/></g><g id="n436"><circle cx="1145" cy="1024" r="7.3"/></g><g id="n437"><circle cx="1139" cy="1027" r="7.3"/></g><g id="n438"><circle cx="1139" cy="970" r="7.3"/></g><g id="n439"><circle cx="1142" cy="979" r="7.3"/></g><g id="n440"><circle cx="1142" cy="926" r="7.3"/></g><g id="n441"><circle cx="1138" cy="929" r="7.3"/></g><g id="n442"><circle cx="1133" cy="920" r="7.3"/></g><g id="n443"><circle cx="1153" cy="912" r="7.3"/></g><g id="n444"><circle cx="1112" cy="929" r="7.3"/></g><g id="n445"><circle cx="1103" cy="938" r="7.3"/></g><g id="n446"><circle cx="1100" cy="947" r="7.3"/></g><g id="n447"><circle cx="1071" cy="953" r="7.3"/></g><g id="n448"><circle cx="1056" cy="965" r="7.3"/></g><g id="n449"><circle cx="1041" cy="944" r="7.3"/></g><g id="n450"><circle cx="1033" cy="991" r="7.3"/></g><g id="n451"><circle cx="1012" cy="1006" r="7.3"/></g><g id="n452"><circle cx="1071" cy="1006" r="7.3"/></g><g id="n453"><circle cx="1095" cy="991" r="7.3"/></g><g id="n454"><circle cx="1103" cy="988" r="7.3"/></g><g id="n455"><circle cx="1015" cy="1053" r="7.3"/></g><g id="n456"><circle cx="994" cy="988" r="7.3"/></g><g id="n457"><circle cx="988" cy="965" r="7.3"/></g><g id="n458"><circle cx="976" cy="965" r="7.3"/></g><g id="n459"><circle cx="953" cy="962" r="7.3"/></g><g id="n460"><circle cx="924" cy="959" r="7.3"/></g><g id="n461"><circle cx="918" cy="947" r="7.3"/></g><g id="n462"><circle cx="906" cy="985" r="7.3"/></g><g id="n463"><circle cx="923" cy="991" r="7.3"/></g><g id="n464"><circle cx="947" cy="1006" r="7.3"/></g><g id="n465"><circle cx="974" cy="1012" r="7.3"/></g><g id="n466"><circle cx="885" cy="994" r="7.3"/></g><g id="n467"><circle cx="889" cy="994" r="7.3"/></g><g id="n468"><circle cx="832" cy="1018" r="7.3"/></g><g id="n469"><circle cx="773" cy="1009" r="7.3"/></g><g id="n470"><circle cx="753" cy="988" r="7.3"/></g><g id="n471"><circle cx="838" cy="1030" r="7.3"/></g><g id="n472"><circle cx="900" cy="1027" r="7.3"/></g><g id="n473"><circle cx="930" cy="1044" r="7.3"/></g><g id="n474"><circle cx="958" cy="1047" r="7.3"/></g><g id="n475"><circle cx="975" cy="1047" r="7.3"/></g><g id="n476"><circle cx="983" cy="1050" r="7.3"/></g><g id="n477"><circle cx="991" cy="1055" r="7.3"/></g><g id="n478"><circle cx="930" cy="1053" r="7.3"/></g><g id="n479"><circle cx="914" cy="1065" r="7.3"/></g><g id="n480"><circle cx="914" cy="1077" r="7.3"/></g><g id="n481"><circle cx="879" cy="1050" r="7.3"/></g><g id="n482"><circle cx="836" cy="1080" r="7.3"/></g><g id="n483"><circle cx="824" cy="1053" r="7.3"/></g><g id="n484"><circle cx="808" cy="1059" r="7.3"/></g><g id="n485"><circle cx="810" cy="1062" r="7.3"/></g><g id="n486"><circle cx="862" cy="1097" r="7.3"/></g><g id="n487"><circle cx="870" cy="1091" r="7.3"/></g><g id="n488"><circle cx="882" cy="1103" r="7.3"/></g><g id="n489"><circle cx="930" cy="1106" r="7.3"/></g><g id="n490"><circle cx="971" cy="1088" r="7.3"/></g><g id="n491"><circle cx="1003" cy="1109" r="7.3"/></g><g id="n492"><circle cx="1021" cy="1094" r="7.3"/></g><g id="n493"><circle cx="1035" cy="1072" r="7.3"/></g><g id="n494"><circle cx="1041" cy="1062" r="7.3"/></g><g id="n495"><circle cx="1045" cy="1068" r="7.3"/></g><g id="n496"><circle cx="1068" cy="1062" r="7.3"/></g><g id="n497"><circle cx="1082" cy="1068" r="7.3"/></g><g id="n498"><circle cx="1121" cy="1068" r="7.3"/></g><g id="n499"><circle cx="1133" cy="1080" r="7.3"/></g><g id="n500"><circle cx="1162" cy="1100" r="7.3"/></g><g id="n501"><circle cx="1157" cy="1118" r="7.3"/></g><g id="n502"><circle cx="1186" cy="1118" r="7.3"/></g><g id="n503"><circle cx="1218" cy="1121" r="7.3"/></g><g id="n504"><circle cx="1265" cy="1127" r="7.3"/></g><g id="n505"><circle cx="1306" cy="1138" r="7.3"/></g><g id="n506"><circle cx="1239" cy="1077" r="7.3"/></g><g id="n507"><circle cx="1265" cy="1086" r="7.3"/></g><g id="n508"><circle cx="1198" cy="1071" r="7.3"/></g><g id="n509"><circle cx="1195" cy="1056" r="7.3"/></g>
<g id="n510"><circle cx="706" cy="994" r="7.3"/></g><g id="n511"><circle cx="706" cy="998" r="7.3"/></g><g id="n512"><circle cx="702" cy="1012" r="7.3"/></g><g id="n513"><circle cx="715" cy="1018" r="7.3"/></g><g id="n514"><circle cx="676" cy="1020" r="7.3"/></g><g id="n515"><circle cx="632" cy="1000" r="7.3"/></g><g id="n516"><circle cx="780" cy="823" r="7.3"/></g><g id="n517"><circle cx="765" cy="847" r="7.3"/></g><g id="n518"><circle cx="838" cy="812" r="7.3"/></g><g id="n519"><circle cx="829" cy="850" r="7.3"/></g><g id="n520"><circle cx="832" cy="873" r="7.3"/></g><g id="n521"><circle cx="853" cy="861" r="7.3"/></g><g id="n522"><circle cx="868" cy="882" r="7.3"/></g>
<g id="n523"><circle cx="1321" cy="1171" r="7.3"/></g><g id="n524"><circle cx="1324" cy="1180" r="7.3"/></g><g id="n525"><circle cx="1283" cy="1183" r="7.3"/></g><g id="n526"><circle cx="1257" cy="1162" r="7.3"/></g><g id="n527"><circle cx="1241" cy="1188" r="7.3"/></g><g id="n528"><circle cx="1218" cy="1194" r="7.3"/></g><g id="n529"><circle cx="1224" cy="1168" r="7.3"/></g><g id="n530"><circle cx="1224" cy="1153" r="7.3"/></g><g id="n531"><circle cx="1195" cy="1150" r="7.3"/></g><g id="n532"><circle cx="1192" cy="1185" r="7.3"/></g><g id="n533"><circle cx="1197" cy="1194" r="7.3"/></g><g id="n534"><circle cx="1206" cy="1206" r="7.3"/></g><g id="n535"><circle cx="1162" cy="1218" r="7.3"/></g><g id="n536"><circle cx="1129" cy="1215" r="7.3"/></g><g id="n537"><circle cx="1112" cy="1228" r="7.3"/></g><g id="n538"><circle cx="1068" cy="1197" r="7.3"/></g><g id="n539"><circle cx="1068" cy="1165" r="7.3"/></g><g id="n540"><circle cx="1068" cy="1136" r="7.3"/></g><g id="n541"><circle cx="1062" cy="1136" r="7.3"/></g><g id="n542"><circle cx="1118" cy="1159" r="7.3"/></g><g id="n543"><circle cx="1142" cy="1136" r="7.3"/></g><g id="n544"><circle cx="1015" cy="1159" r="7.3"/></g><g id="n545"><circle cx="1008" cy="1183" r="7.3"/></g><g id="n546"><circle cx="1015" cy="1192" r="7.3"/></g><g id="n547"><circle cx="1015" cy="1209" r="7.3"/></g><g id="n548"><circle cx="1006" cy="1250" r="7.3"/></g><g id="n549"><circle cx="991" cy="1245" r="7.3"/></g><g id="n550"><circle cx="977" cy="1248" r="7.3"/></g><g id="n551"><circle cx="974" cy="1254" r="7.3"/></g><g id="n552"><circle cx="921" cy="1262" r="7.3"/></g><g id="n553"><circle cx="894" cy="1262" r="7.3"/></g><g id="n554"><circle cx="903" cy="1233" r="7.3"/></g><g id="n555"><circle cx="888" cy="1245" r="7.3"/></g><g id="n556"><circle cx="847" cy="1238" r="7.3"/></g><g id="n557"><circle cx="829" cy="1227" r="7.3"/></g><g id="n558"><circle cx="794" cy="1224" r="7.3"/></g><g id="n559"><circle cx="791" cy="1203" r="7.3"/></g><g id="n560"><circle cx="779" cy="1194" r="7.3"/></g><g id="n561"><circle cx="826" cy="1209" r="7.3"/></g><g id="n562"><circle cx="841" cy="1171" r="7.3"/></g><g id="n563"><circle cx="868" cy="1147" r="7.3"/></g><g id="n564"><circle cx="814" cy="1138" r="7.3"/></g><g id="n565"><circle cx="791" cy="1135" r="7.3"/></g><g id="n566"><circle cx="826" cy="1145" r="7.3"/></g><g id="n567"><circle cx="959" cy="1171" r="7.3"/></g><g id="n568"><circle cx="982" cy="1150" r="7.3"/></g><g id="n569"><circle cx="968" cy="1141" r="7.3"/></g><g id="n570"><circle cx="936" cy="1135" r="7.3"/></g><g id="n571"><circle cx="1115" cy="1250" r="7.3"/></g><g id="n572"><circle cx="1115" cy="1262" r="7.3"/></g><g id="n573"><circle cx="1130" cy="1259" r="7.3"/></g><g id="n574"><circle cx="1129" cy="1274" r="7.3"/></g><g id="n575"><circle cx="1130" cy="1277" r="7.3"/></g><g id="n576"><circle cx="1156" cy="1280" r="7.3"/></g><g id="n577"><circle cx="1129" cy="1291" r="7.3"/></g><g id="n578"><circle cx="1124" cy="1301" r="7.3"/></g><g id="n579"><circle cx="1145" cy="1303" r="7.3"/></g><g id="n580"><circle cx="1168" cy="1306" r="7.3"/></g><g id="n581"><circle cx="1177" cy="1295" r="7.3"/></g><g id="n582"><circle cx="1180" cy="1297" r="7.3"/></g><g id="n583"><circle cx="1225" cy="1283" r="7.3"/></g><g id="n584"><circle cx="1218" cy="1271" r="7.3"/></g><g id="n585"><circle cx="1179" cy="1250" r="7.3"/></g><g id="n586"><circle cx="1192" cy="1250" r="7.3"/></g><g id="n587"><circle cx="1207" cy="1238" r="7.3"/></g><g id="n588"><circle cx="1207" cy="1247" r="7.3"/></g><g id="n589"><circle cx="1230" cy="1238" r="7.3"/></g><g id="n590"><circle cx="1251" cy="1242" r="7.3"/></g><g id="n591"><circle cx="1256" cy="1221" r="7.3"/></g><g id="n592"><circle cx="1268" cy="1209" r="7.3"/></g><g id="n593"><circle cx="1276" cy="1209" r="7.3"/></g><g id="n594"><circle cx="1291" cy="1212" r="7.3"/></g><g id="n595"><circle cx="1316" cy="1224" r="7.3"/></g><g id="n596"><circle cx="1298" cy="1245" r="7.3"/></g><g id="n597"><circle cx="1286" cy="1265" r="7.3"/></g><g id="n598"><circle cx="1315" cy="1256" r="7.3"/></g><g id="n599"><circle cx="1345" cy="1251" r="7.3"/></g><g id="n600"><circle cx="1348" cy="1253" r="7.3"/></g><g id="n601"><circle cx="1372" cy="1256" r="7.3"/></g><g id="n602"><circle cx="1386" cy="1224" r="7.3"/></g><g id="n603"><circle cx="1369" cy="1206" r="7.3"/></g><g id="n604"><circle cx="1383" cy="1174" r="7.3"/></g><g id="n605"><circle cx="1396" cy="1138" r="7.3"/></g><g id="n606"><circle cx="1407" cy="1141" r="7.3"/></g><g id="n607"><circle cx="1421" cy="1177" r="7.3"/></g><g id="n608"><circle cx="1433" cy="1171" r="7.3"/></g><g id="n609"><circle cx="1442" cy="1165" r="7.3"/></g><g id="n610"><circle cx="1415" cy="1247" r="7.3"/></g><g id="n611"><circle cx="1428" cy="1253" r="7.3"/></g><g id="n612"><circle cx="1448" cy="1265" r="7.3"/></g><g id="n613"><circle cx="1439" cy="1280" r="7.3"/></g><g id="n614"><circle cx="1457" cy="1306" r="7.3"/></g><g id="n615"><circle cx="1478" cy="1298" r="7.3"/></g><g id="n616"><circle cx="1478" cy="1306" r="7.3"/></g><g id="n617"><circle cx="1478" cy="1345" r="7.3"/></g><g id="n618"><circle cx="1457" cy="1386" r="7.3"/></g><g id="n619"><circle cx="1466" cy="1395" r="7.3"/></g><g id="n620"><circle cx="1428" cy="1401" r="7.3"/></g><g id="n621"><circle cx="1430" cy="1427" r="7.3"/></g><g id="n622"><circle cx="1401" cy="1418" r="7.3"/></g><g id="n623"><circle cx="1360" cy="1418" r="7.3"/></g><g id="n624"><circle cx="1322" cy="1410" r="7.3"/></g><g id="n625"><circle cx="1295" cy="1457" r="7.3"/></g><g id="n626"><circle cx="1339" cy="1465" r="7.3"/></g><g id="n627"><circle cx="1239" cy="1465" r="7.3"/></g><g id="n628"><circle cx="1215" cy="1446" r="7.3"/></g><g id="n629"><circle cx="1221" cy="1421" r="7.3"/></g><g id="n630"><circle cx="1200" cy="1421" r="7.3"/></g><g id="n631"><circle cx="1186" cy="1483" r="7.3"/></g><g id="n632"><circle cx="1153" cy="1480" r="7.3"/></g><g id="n633"><circle cx="1109" cy="1483" r="7.3"/></g><g id="n634"><circle cx="1109" cy="1476" r="7.3"/></g><g id="n635"><circle cx="1094" cy="1462" r="7.3"/></g><g id="n636"><circle cx="1094" cy="1470" r="7.3"/></g><g id="n637"><circle cx="1094" cy="1474" r="7.3"/></g><g id="n638"><circle cx="1144" cy="1421" r="7.3"/></g><g id="n639"><circle cx="1133" cy="1418" r="7.3"/></g><g id="n640"><circle cx="1118" cy="1421" r="7.3"/></g><g id="n641"><circle cx="1092" cy="1410" r="7.3"/></g><g id="n642"><circle cx="1080" cy="1405" r="7.3"/></g><g id="n643"><circle cx="1078" cy="1412" r="7.3"/></g><g id="n644"><circle cx="1074" cy="1430" r="7.3"/></g><g id="n645"><circle cx="1080" cy="1433" r="7.3"/></g><g id="n646"><circle cx="1062" cy="1424" r="7.3"/></g><g id="n647"><circle cx="1060" cy="1426" r="7.3"/></g><g id="n648"><circle cx="1062" cy="1447" r="7.3"/></g><g id="n649"><circle cx="1076" cy="1451" r="7.3"/></g><g id="n650"><circle cx="1044" cy="1465" r="7.3"/></g><g id="n651"><circle cx="1044" cy="1474" r="7.3"/></g><g id="n652"><circle cx="1015" cy="1445" r="7.3"/></g><g id="n653"><circle cx="1020" cy="1436" r="7.3"/></g><g id="n654"><circle cx="1018" cy="1438" r="7.3"/></g><g id="n655"><circle cx="983" cy="1439" r="7.3"/></g><g id="n656"><circle cx="956" cy="1421" r="7.3"/></g><g id="n657"><circle cx="954" cy="1424" r="7.3"/></g><g id="n658"><circle cx="950" cy="1447" r="7.3"/></g><g id="n659"><circle cx="927" cy="1421" r="7.3"/></g><g id="n660"><circle cx="927" cy="1468" r="7.3"/></g><g id="n661"><circle cx="947" cy="1489" r="7.3"/></g><g id="n662"><circle cx="891" cy="1439" r="7.3"/></g><g id="n663"><circle cx="865" cy="1436" r="7.3"/></g><g id="n664"><circle cx="832" cy="1451" r="7.3"/></g><g id="n665"><circle cx="847" cy="1365" r="7.3"/></g><g id="n666"><circle cx="814" cy="1356" r="7.3"/></g><g id="n667"><circle cx="699" cy="1401" r="7.3"/></g><g id="n668"><circle cx="676" cy="1377" r="7.3"/></g><g id="n669"><circle cx="676" cy="1460" r="7.3"/></g><g id="n670"><circle cx="672" cy="1462" r="7.3"/></g><g id="n671"><circle cx="667" cy="1469" r="7.3"/></g><g id="n672"><circle cx="664" cy="1471" r="7.3"/></g><g id="n673"><circle cx="650" cy="1457" r="7.3"/></g><g id="n674"><circle cx="985" cy="1401" r="7.3"/></g><g id="n675"><circle cx="1033" cy="1392" r="7.3"/></g><g id="n676"><circle cx="1059" cy="1368" r="7.3"/></g><g id="n677"><circle cx="1065" cy="1372" r="7.3"/></g><g id="n678"><circle cx="1024" cy="1347" r="7.3"/></g><g id="n679"><circle cx="1009" cy="1321" r="7.3"/></g><g id="n680"><circle cx="962" cy="1324" r="7.3"/></g><g id="n681"><circle cx="953" cy="1318" r="7.3"/></g><g id="n682"><circle cx="938" cy="1330" r="7.3"/></g><g id="n683"><circle cx="938" cy="1356" r="7.3"/></g><g id="n684"><circle cx="936" cy="1362" r="7.3"/></g><g id="n685"><circle cx="959" cy="1368" r="7.3"/></g><g id="n686"><circle cx="894" cy="1318" r="7.3"/></g><g id="n687"><circle cx="885" cy="1324" r="7.3"/></g><g id="n688"><circle cx="903" cy="1298" r="7.3"/></g><g id="n689"><circle cx="880" cy="1280" r="7.3"/></g><g id="n690"><circle cx="864" cy="1279" r="7.3"/></g><g id="n691"><circle cx="862" cy="1292" r="7.3"/></g><g id="n692"><circle cx="832" cy="1315" r="7.3"/></g><g id="n693"><circle cx="829" cy="1274" r="7.3"/></g><g id="n694"><circle cx="810" cy="1259" r="7.3"/></g><g id="n695"><circle cx="810" cy="1265" r="7.3"/></g><g id="n696"><circle cx="788" cy="1262" r="7.3"/></g><g id="n697"><circle cx="762" cy="1262" r="7.3"/></g><g id="n698"><circle cx="797" cy="1289" r="7.3"/></g><g id="n699"><circle cx="793" cy="1291" r="7.3"/></g><g id="n700"><circle cx="1096" cy="1324" r="7.3"/></g><g id="n701"><circle cx="1095" cy="1327" r="7.3"/></g><g id="n702"><circle cx="1112" cy="1345" r="7.3"/></g><g id="n703"><circle cx="1118" cy="1345" r="7.3"/></g><g id="n704"><circle cx="1133" cy="1368" r="7.3"/></g><g id="n705"><circle cx="1153" cy="1339" r="7.3"/></g><g id="n706"><circle cx="1177" cy="1321" r="7.3"/></g><g id="n707"><circle cx="1177" cy="1330" r="7.3"/></g><g id="n708"><circle cx="1221" cy="1345" r="7.3"/></g><g id="n709"><circle cx="1222" cy="1345" r="7.3"/></g><g id="n710"><circle cx="1221" cy="1362" r="7.3"/></g><g id="n711"><circle cx="1204" cy="1380" r="7.3"/></g><g id="n712"><circle cx="1157" cy="1395" r="7.3"/></g><g id="n713"><circle cx="1159" cy="1415" r="7.3"/></g><g id="n714"><circle cx="1106" cy="1386" r="7.3"/></g><g id="n715"><circle cx="1109" cy="1386" r="7.3"/></g><g id="n716"><circle cx="1239" cy="1312" r="7.3"/></g><g id="n717"><circle cx="1242" cy="1295" r="7.3"/></g><g id="n718"><circle cx="1265" cy="1309" r="7.3"/></g><g id="n719"><circle cx="1292" cy="1315" r="7.3"/></g><g id="n720"><circle cx="1300" cy="1306" r="7.3"/></g><g id="n721"><circle cx="1272" cy="1283" r="7.3"/></g><g id="n722"><circle cx="1282" cy="1292" r="7.3"/></g><g id="n723"><circle cx="1255" cy="1265" r="7.3"/></g><g id="n724"><circle cx="1258" cy="1270" r="7.3"/></g><g id="n725"><circle cx="1318" cy="1339" r="7.3"/></g><g id="n726"><circle cx="1342" cy="1345" r="7.3"/></g><g id="n727"><circle cx="1354" cy="1327" r="7.3"/></g><g id="n728"><circle cx="1339" cy="1309" r="7.3"/></g><g id="n729"><circle cx="1360" cy="1303" r="7.3"/></g><g id="n730"><circle cx="1380" cy="1345" r="7.3"/></g><g id="n731"><circle cx="1428" cy="1342" r="7.3"/></g><g id="n732"><circle cx="1298" cy="1365" r="7.3"/></g><g id="n733"><circle cx="1306" cy="1368" r="7.3"/></g><g id="n734"><circle cx="1336" cy="1368" r="7.3"/></g><g id="n735"><circle cx="1401" cy="1271" r="7.3"/></g><g id="n736"><circle cx="1358" cy="1157" r="7.3"/></g><g id="n737"><circle cx="1354" cy="1167" r="7.3"/></g>
<g id="n738"><circle cx="1401" cy="87" r="7.3"/></g><g id="n739"><circle cx="1440" cy="102" r="7.3"/></g><g id="n740"><circle cx="1445" cy="102" r="7.3"/></g><g id="n741"><circle cx="1457" cy="78" r="7.3"/></g><g id="n742"><circle cx="1469" cy="80" r="7.3"/></g><g id="n743"><circle cx="1481" cy="93" r="7.3"/></g><g id="n744"><circle cx="1481" cy="98" r="7.3"/></g><g id="n745"><circle cx="1339" cy="90" r="7.3"/></g><g id="n746"><circle cx="1357" cy="122" r="7.3"/></g><g id="n747"><circle cx="1380" cy="134" r="7.3"/></g><g id="n748"><circle cx="1428" cy="125" r="7.3"/></g><g id="n749"><circle cx="1454" cy="115" r="7.3"/></g><g id="n750"><circle cx="1469" cy="122" r="7.3"/></g><g id="n751"><circle cx="1466" cy="152" r="7.3"/></g><g id="n752"><circle cx="1464" cy="158" r="7.3"/></g><g id="n753"><circle cx="1458" cy="165" r="7.3"/></g><g id="n754"><circle cx="1454" cy="167" r="7.3"/></g><g id="n755"><circle cx="1481" cy="175" r="7.3"/></g><g id="n756"><circle cx="1457" cy="184" r="7.3"/></g><g id="n757"><circle cx="1457" cy="205" r="7.3"/></g><g id="n758"><circle cx="1428" cy="223" r="7.3"/></g><g id="n759"><circle cx="1422" cy="243" r="7.3"/></g><g id="n760"><circle cx="1454" cy="252" r="7.3"/></g><g id="n761"><circle cx="1463" cy="302" r="7.3"/></g><g id="n762"><circle cx="1478" cy="334" r="7.3"/></g><g id="n763"><circle cx="1469" cy="369" r="7.3"/></g><g id="n764"><circle cx="1454" cy="376" r="7.3"/></g><g id="n765"><circle cx="1486" cy="376" r="7.3"/></g><g id="n766"><circle cx="1486" cy="388" r="7.3"/></g><g id="n767"><circle cx="1487" cy="403" r="7.3"/></g><g id="n768"><circle cx="1476" cy="412" r="7.3"/></g><g id="n769"><circle cx="1473" cy="425" r="7.3"/></g><g id="n770"><circle cx="1466" cy="425" r="7.3"/></g><g id="n771"><circle cx="1463" cy="435" r="7.3"/></g><g id="n772"><circle cx="1450" cy="428" r="7.3"/></g><g id="n773"><circle cx="1440" cy="410" r="7.3"/></g><g id="n774"><circle cx="1440" cy="418" r="7.3"/></g><g id="n775"><circle cx="1438" cy="425" r="7.3"/></g><g id="n776"><circle cx="1437" cy="431" r="7.3"/></g><g id="n777"><circle cx="1448" cy="441" r="7.3"/></g><g id="n778"><circle cx="1456" cy="441" r="7.3"/></g><g id="n779"><circle cx="1478" cy="452" r="7.3"/></g><g id="n780"><circle cx="1463" cy="467" r="7.3"/></g><g id="n781"><circle cx="1486" cy="470" r="7.3"/></g><g id="n782"><circle cx="1456" cy="485" r="7.3"/></g><g id="n783"><circle cx="1428" cy="476" r="7.3"/></g><g id="n784"><circle cx="1442" cy="493" r="7.3"/></g><g id="n785"><circle cx="1452" cy="499" r="7.3"/></g><g id="n786"><circle cx="1454" cy="500" r="7.3"/></g><g id="n787"><circle cx="1464" cy="493" r="7.3"/></g><g id="n788"><circle cx="1428" cy="514" r="7.3"/></g><g id="n789"><circle cx="1444" cy="514" r="7.3"/></g><g id="n790"><circle cx="1448" cy="531" r="7.3"/></g><g id="n791"><circle cx="1395" cy="488" r="7.3"/></g><g id="n792"><circle cx="1354" cy="532" r="7.3"/></g><g id="n793"><circle cx="1357" cy="538" r="7.3"/></g><g id="n794"><circle cx="1345" cy="591" r="7.3"/></g><g id="n795"><circle cx="1295" cy="520" r="7.3"/></g><g id="n796"><circle cx="1269" cy="476" r="7.3"/></g><g id="n797"><circle cx="1248" cy="470" r="7.3"/></g><g id="n798"><circle cx="1279" cy="451" r="7.3"/></g><g id="n799"><circle cx="1245" cy="447" r="7.3"/></g><g id="n800"><circle cx="1198" cy="467" r="7.3"/></g><g id="n801"><circle cx="1233" cy="526" r="7.3"/></g><g id="n802"><circle cx="1192" cy="493" r="7.3"/></g><g id="n803"><circle cx="1174" cy="494" r="7.3"/></g><g id="n804"><circle cx="1157" cy="470" r="7.3"/></g><g id="n805"><circle cx="1141" cy="470" r="7.3"/></g><g id="n806"><circle cx="1124" cy="461" r="7.3"/></g><g id="n807"><circle cx="1109" cy="455" r="7.3"/></g><g id="n808"><circle cx="1089" cy="441" r="7.3"/></g><g id="n809"><circle cx="1068" cy="444" r="7.3"/></g><g id="n810"><circle cx="1059" cy="426" r="7.3"/></g><g id="n811"><circle cx="1080" cy="420" r="7.3"/></g><g id="n812"><circle cx="1098" cy="390" r="7.3"/></g><g id="n813"><circle cx="1118" cy="402" r="7.3"/></g><g id="n814"><circle cx="1136" cy="352" r="7.3"/></g><g id="n815"><circle cx="1071" cy="340" r="7.3"/></g><g id="n816"><circle cx="1089" cy="334" r="7.3"/></g><g id="n817"><circle cx="1097" cy="317" r="7.3"/></g><g id="n818"><circle cx="1136" cy="293" r="7.3"/></g><g id="n819"><circle cx="1162" cy="317" r="7.3"/></g><g id="n820"><circle cx="1174" cy="325" r="7.3"/></g><g id="n821"><circle cx="1168" cy="344" r="7.3"/></g><g id="n822"><circle cx="1173" cy="346" r="7.3"/></g><g id="n823"><circle cx="1177" cy="361" r="7.3"/></g><g id="n824"><circle cx="1177" cy="390" r="7.3"/></g><g id="n825"><circle cx="1186" cy="420" r="7.3"/></g><g id="n826"><circle cx="1198" cy="438" r="7.3"/></g><g id="n827"><circle cx="1201" cy="443" r="7.3"/></g><g id="n828"><circle cx="1171" cy="447" r="7.3"/></g><g id="n829"><circle cx="1213" cy="405" r="7.3"/></g><g id="n830"><circle cx="1218" cy="417" r="7.3"/></g><g id="n831"><circle cx="1242" cy="370" r="7.3"/></g><g id="n832"><circle cx="1224" cy="352" r="7.3"/></g><g id="n833"><circle cx="1212" cy="349" r="7.3"/></g><g id="n834"><circle cx="1227" cy="325" r="7.3"/></g><g id="n835"><circle cx="1242" cy="284" r="7.3"/></g><g id="n836"><circle cx="1189" cy="264" r="7.3"/></g><g id="n837"><circle cx="1177" cy="267" r="7.3"/></g><g id="n838"><circle cx="1277" cy="279" r="7.3"/></g><g id="n839"><circle cx="1254" cy="261" r="7.3"/></g><g id="n840"><circle cx="1248" cy="264" r="7.3"/></g><g id="n841"><circle cx="1256" cy="246" r="7.3"/></g><g id="n842"><circle cx="1263" cy="243" r="7.3"/></g><g id="n843"><circle cx="1264" cy="244" r="7.3"/></g><g id="n844"><circle cx="1271" cy="220" r="7.3"/></g><g id="n845"><circle cx="1263" cy="211" r="7.3"/></g><g id="n846"><circle cx="1258" cy="208" r="7.3"/></g><g id="n847"><circle cx="1245" cy="206" r="7.3"/></g><g id="n848"><circle cx="1243" cy="212" r="7.3"/></g><g id="n849"><circle cx="1224" cy="213" r="7.3"/></g><g id="n850"><circle cx="1260" cy="182" r="7.3"/></g><g id="n851"><circle cx="1286" cy="178" r="7.3"/></g><g id="n852"><circle cx="1298" cy="193" r="7.3"/></g><g id="n853"><circle cx="1298" cy="208" r="7.3"/></g><g id="n854"><circle cx="1322" cy="249" r="7.3"/></g><g id="n855"><circle cx="1336" cy="255" r="7.3"/></g><g id="n856"><circle cx="1380" cy="243" r="7.3"/></g><g id="n857"><circle cx="1372" cy="223" r="7.3"/></g><g id="n858"><circle cx="1376" cy="210" r="7.3"/></g><g id="n859"><circle cx="1260" cy="186" r="7.3"/></g><g id="n860"><circle cx="1359" cy="199" r="7.3"/></g><g id="n861"><circle cx="1372" cy="196" r="7.3"/></g><g id="n862"><circle cx="1389" cy="193" r="7.3"/></g><g id="n863"><circle cx="1391" cy="210" r="7.3"/></g><g id="n864"><circle cx="1394" cy="208" r="7.3"/></g><g id="n865"><circle cx="1371" cy="164" r="7.3"/></g><g id="n867"><circle cx="1340" cy="152" r="7.3"/></g><g id="n868"><circle cx="1324" cy="158" r="7.3"/></g><g id="n869"><circle cx="1319" cy="137" r="7.3"/></g><g id="n870"><circle cx="1310" cy="125" r="7.3"/></g><g id="n871"><circle cx="1295" cy="117" r="7.3"/></g><g id="n872"><circle cx="1290" cy="116" r="7.3"/></g><g id="n873"><circle cx="1285" cy="117" r="7.3"/></g><g id="n874"><circle cx="1286" cy="122" r="7.3"/></g><g id="n875"><circle cx="1280" cy="161" r="7.3"/></g><g id="n876"><circle cx="1372" cy="293" r="7.3"/></g><g id="n877"><circle cx="1372" cy="295" r="7.3"/></g><g id="n878"><circle cx="1357" cy="305" r="7.3"/></g><g id="n879"><circle cx="1357" cy="314" r="7.3"/></g><g id="n880"><circle cx="1340" cy="314" r="7.3"/></g><g id="n881"><circle cx="1310" cy="311" r="7.3"/></g><g id="n882"><circle cx="1289" cy="305" r="7.3"/></g><g id="n883"><circle cx="1283" cy="311" r="7.3"/></g><g id="n884"><circle cx="1316" cy="267" r="7.3"/></g><g id="n885"><circle cx="1290" cy="275" r="7.3"/></g><g id="n886"><circle cx="1377" cy="325" r="7.3"/></g><g id="n887"><circle cx="1381" cy="331" r="7.3"/></g><g id="n888"><circle cx="1378" cy="337" r="7.3"/></g><g id="n889"><circle cx="1322" cy="349" r="7.3"/></g><g id="n890"><circle cx="1372" cy="367" r="7.3"/></g><g id="n891"><circle cx="1375" cy="397" r="7.3"/></g><g id="n892"><circle cx="1380" cy="397" r="7.3"/></g><g id="n893"><circle cx="1393" cy="394" r="7.3"/></g><g id="n894"><circle cx="1410" cy="387" r="7.3"/></g><g id="n895"><circle cx="1413" cy="399" r="7.3"/></g><g id="n896"><circle cx="1410" cy="417" r="7.3"/></g><g id="n897"><circle cx="1369" cy="403" r="7.3"/></g><g id="n898"><circle cx="1369" cy="413" r="7.3"/></g><g id="n899"><circle cx="1389" cy="432" r="7.3"/></g><g id="n900"><circle cx="1378" cy="449" r="7.3"/></g><g id="n901"><circle cx="1410" cy="449" r="7.3"/></g><g id="n902"><circle cx="1327" cy="441" r="7.3"/></g><g id="n903"><circle cx="1303" cy="420" r="7.3"/></g><g id="n904"><circle cx="1298" cy="378" r="7.3"/></g><g id="n905"><circle cx="1280" cy="376" r="7.3"/></g>
<g id="n906"><circle cx="1006" cy="240" r="7.3"/></g><g id="n907"><circle cx="1006" cy="246" r="7.3"/></g><g id="n908"><circle cx="1041" cy="276" r="7.3"/></g><g id="n909"><circle cx="1077" cy="264" r="7.3"/></g><g id="n910"><circle cx="1077" cy="273" r="7.3"/></g><g id="n911"><circle cx="1059" cy="302" r="7.3"/></g><g id="n912"><circle cx="1021" cy="293" r="7.3"/></g><g id="n913"><circle cx="1010" cy="314" r="7.3"/></g><g id="n914"><circle cx="1014" cy="313" r="7.3"/></g><g id="n915"><circle cx="1003" cy="334" r="7.3"/></g><g id="n916"><circle cx="966" cy="348" r="7.3"/></g><g id="n917"><circle cx="977" cy="343" r="7.3"/></g><g id="n918"><circle cx="1000" cy="355" r="7.3"/></g><g id="n919"><circle cx="1021" cy="347" r="7.3"/></g><g id="n920"><circle cx="1036" cy="358" r="7.3"/></g><g id="n921"><circle cx="1041" cy="354" r="7.3"/></g><g id="n922"><circle cx="1045" cy="363" r="7.3"/></g><g id="n923"><circle cx="992" cy="370" r="7.3"/></g><g id="n924"><circle cx="988" cy="376" r="7.3"/></g><g id="n925"><circle cx="1027" cy="390" r="7.3"/></g><g id="n926"><circle cx="1054" cy="470" r="7.3"/></g><g id="n927"><circle cx="1074" cy="476" r="7.3"/></g><g id="n928"><circle cx="1104" cy="488" r="7.3"/></g><g id="n929"><circle cx="1124" cy="488" r="7.3"/></g><g id="n930"><circle cx="1141" cy="496" r="7.3"/></g><g id="n931"><circle cx="1153" cy="488" r="7.3"/></g><g id="n932"><circle cx="1157" cy="478" r="7.3"/></g><g id="n933"><circle cx="1050" cy="517" r="7.3"/></g><g id="n934"><circle cx="1065" cy="517" r="7.3"/></g><g id="n935"><circle cx="1024" cy="535" r="7.3"/></g><g id="n936"><circle cx="1000" cy="511" r="7.3"/></g><g id="n937"><circle cx="991" cy="493" r="7.3"/></g><g id="n938"><circle cx="1098" cy="579" r="7.3"/></g><g id="n939"><circle cx="1139" cy="600" r="7.3"/></g><g id="n940"><circle cx="1154" cy="546" r="7.3"/></g><g id="n941"><circle cx="1160" cy="529" r="7.3"/></g><g id="n942"><circle cx="1167" cy="525" r="7.3"/></g><g id="n943"><circle cx="1170" cy="517" r="7.3"/></g><g id="n944"><circle cx="1175" cy="522" r="7.3"/></g><g id="n945"><circle cx="1175" cy="525" r="7.3"/></g>
</g></g>
</g>
</svg>
